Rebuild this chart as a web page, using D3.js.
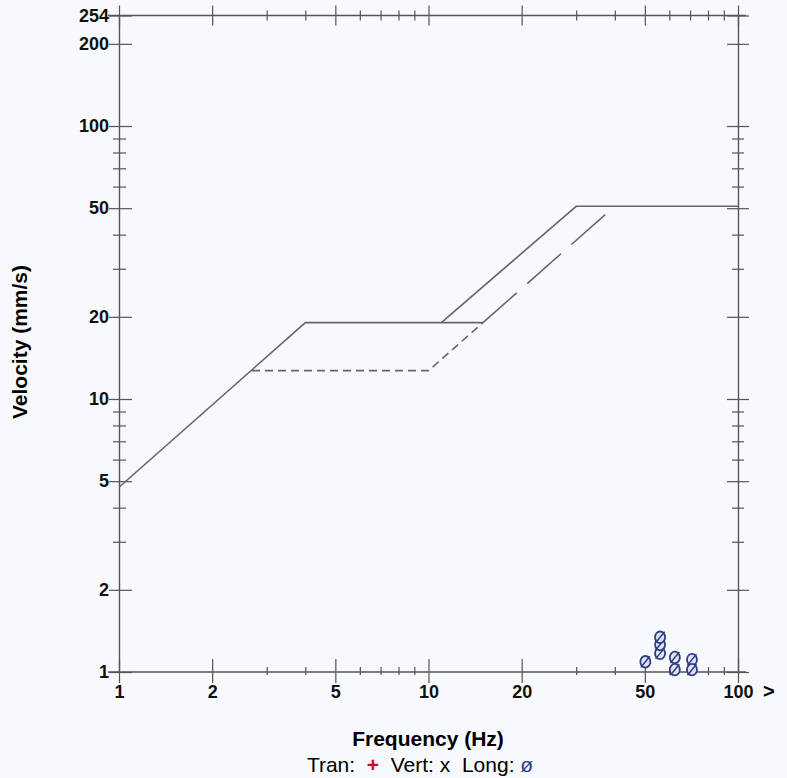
<!DOCTYPE html>
<html>
<head>
<meta charset="utf-8">
<script src="https://cdn.jsdelivr.net/npm/d3@7"></script>
<style>
  body { margin: 0; background: #f7f9fc; }
  svg text { font-family: "Liberation Sans", Arial, sans-serif; }
  .axis .domain { stroke: #555; stroke-width: 1.4; }
  .axis line { stroke: #555; stroke-width: 1.2; }
  .axis text { font-size: 18px; font-weight: bold; fill: #111; }
</style>
</head>
<body>
<div id="chart"></div>
<script>
// tick values
var xMajor = [1, 2, 5, 10, 20, 50, 100];
var xMinor = [3, 4, 6, 7, 8, 9, 30, 40, 60, 70, 80, 90];
var yMajor = [1, 2, 5, 10, 20, 50, 100, 200, 254];
var yMinor = [3, 4, 6, 7, 8, 9, 30, 40, 60, 70, 80, 90];

// limit curves (Hz, mm/s)
var solidAFreq = [1, 4, 15];
var solidAVel = [4.75, 19.05, 19.05];
var solidBFreq = [11, 30, 100];
var solidBVel = [19.05, 50.8, 50.8];
var dashShortFreq = [2.69, 10, 15];
var dashShortVel = [12.7, 12.7, 19.05];
var dashLongFreq = [15, 38];
var dashLongVel = [19.05, 48.3];

// Long channel readings
var longFreq = [50.2, 56, 56, 56, 62.5, 62.5, 71, 71];
var longVel = [1.09, 1.17, 1.26, 1.34, 1.13, 1.02, 1.11, 1.02];

var W = 787, H = 778;
var svg = d3.select("#chart").append("svg")
    .attr("width", W)
    .attr("height", H);

svg.append("rect").attr("width", W).attr("height", H).attr("fill", "#f7f9fc");

var x = d3.scaleLog().domain([1, 100]).range([119, 738]);
var y = d3.scaleLog().domain([1, 254]).range([672, 15.5]);

//left axis with labels
var leftAx = svg.append("g").attr("class", "axis")
    .attr("transform", "translate(119,0)")
    .call(d3.axisLeft(y).tickValues(yMajor).tickFormat(d3.format("d")).tickSizeOuter(0));
leftAx.selectAll(".tick line").attr("x1", -10).attr("x2", 13);
leftAx.selectAll(".tick text").attr("x", -10);
var leftMin = svg.append("g").attr("class", "axis")
    .attr("transform", "translate(119,0)")
    .call(d3.axisLeft(y).tickValues(yMinor).tickFormat("").tickSizeOuter(0));
leftMin.selectAll(".tick line").attr("x1", -6).attr("x2", 7);
leftMin.select(".domain").remove();

//right axis, no labels
var rightAx = svg.append("g").attr("class", "axis")
    .attr("transform", "translate(738,0)")
    .call(d3.axisRight(y).tickValues(yMajor).tickFormat("").tickSizeOuter(0));
rightAx.selectAll(".tick line").attr("x1", -11).attr("x2", 11);
var rightMin = svg.append("g").attr("class", "axis")
    .attr("transform", "translate(738,0)")
    .call(d3.axisRight(y).tickValues(yMinor).tickFormat("").tickSizeOuter(0));
rightMin.selectAll(".tick line").attr("x1", -6).attr("x2", 6);
rightMin.select(".domain").remove();

//bottom axis
var bottomAx = svg.append("g").attr("class", "axis")
    .attr("transform", "translate(0,672)")
    .call(d3.axisBottom(x).tickValues(xMajor).tickFormat(d3.format("d")).tickSizeOuter(0));
bottomAx.selectAll(".tick line").attr("y1", -13).attr("y2", 11).attr("stroke", "#888");
bottomAx.selectAll(".tick text").attr("y", 13);
bottomAx.select(".domain").attr("d", "M108,0H746");
var bottomMin = svg.append("g").attr("class", "axis")
    .attr("transform", "translate(0,672)")
    .call(d3.axisBottom(x).tickValues(xMinor).tickFormat("").tickSizeOuter(0));
bottomMin.selectAll(".tick line").attr("y1", -5).attr("y2", 3);
bottomMin.select(".domain").remove();

//top axis
var topAx = svg.append("g").attr("class", "axis")
    .attr("transform", "translate(0,15.5)")
    .call(d3.axisTop(x).tickValues(xMajor).tickFormat("").tickSizeOuter(0));
topAx.selectAll(".tick line").attr("y1", -10).attr("y2", 10).attr("stroke", "#888");
topAx.select(".domain").attr("d", "M108,0H746");
var topMin = svg.append("g").attr("class", "axis")
    .attr("transform", "translate(0,15.5)")
    .call(d3.axisTop(x).tickValues(xMinor).tickFormat("").tickSizeOuter(0));
topMin.selectAll(".tick line").attr("y1", -5).attr("y2", 5);
topMin.select(".domain").remove();

//limit curves
var line = d3.line()
    .x(function(d) { return x(d[0]); })
    .y(function(d) { return y(d[1]); });

function curve(fr, vel, dash) {
    svg.append("path")
        .attr("d", line(d3.zip(fr, vel)))
        .attr("fill", "none")
        .attr("stroke", "#666")
        .attr("stroke-width", 1.6)
        .attr("stroke-dasharray", dash);
}
curve(solidAFreq, solidAVel, null);
curve(solidBFreq, solidBVel, null);
curve(dashShortFreq, dashShortVel, "8,5");
curve(dashLongFreq, dashLongVel, "45,14");

//Long markers
var pts = svg.append("g").selectAll("g")
    .data(d3.zip(longFreq, longVel))
    .join("g")
    .attr("transform", function(d) { return "translate(" + x(d[0]) + "," + y(d[1]) + ")"; });
pts.append("ellipse")
    .attr("rx", 5).attr("ry", 5.8)
    .attr("fill", "#dfe3f2")
    .attr("stroke", "#2e3c86")
    .attr("stroke-width", 1.8);
pts.append("line")
    .attr("x1", -4.5).attr("y1", 5.5).attr("x2", 4.5).attr("y2", -5.5)
    .attr("stroke", "#2e3c86")
    .attr("stroke-width", 1.5);

//titles
svg.append("text")
    .attr("transform", "translate(27,342) rotate(-90)")
    .attr("text-anchor", "middle")
    .style("font-size", "21px").style("font-weight", "bold")
    .text("Velocity (mm/s)");

svg.append("text")
    .attr("x", 428).attr("y", 746)
    .attr("text-anchor", "middle")
    .style("font-size", "21px").style("font-weight", "bold")
    .text("Frequency (Hz)");

var leg = svg.append("text")
    .attr("x", 420).attr("y", 772)
    .attr("text-anchor", "middle")
    .style("font-size", "21px")
    .attr("xml:space", "preserve");
leg.append("tspan").text("Tran:  ");
leg.append("tspan").attr("fill", "#c8102e").style("font-weight", "bold").text("+");
leg.append("tspan").text("  Vert: x  Long: ");
leg.append("tspan").attr("fill", "#2e3c86").text("ø");

svg.append("text")
    .attr("x", 763).attr("y", 698)
    .style("font-size", "20px").style("font-weight", "bold")
    .text(">");
</script>
</body>
</html>
